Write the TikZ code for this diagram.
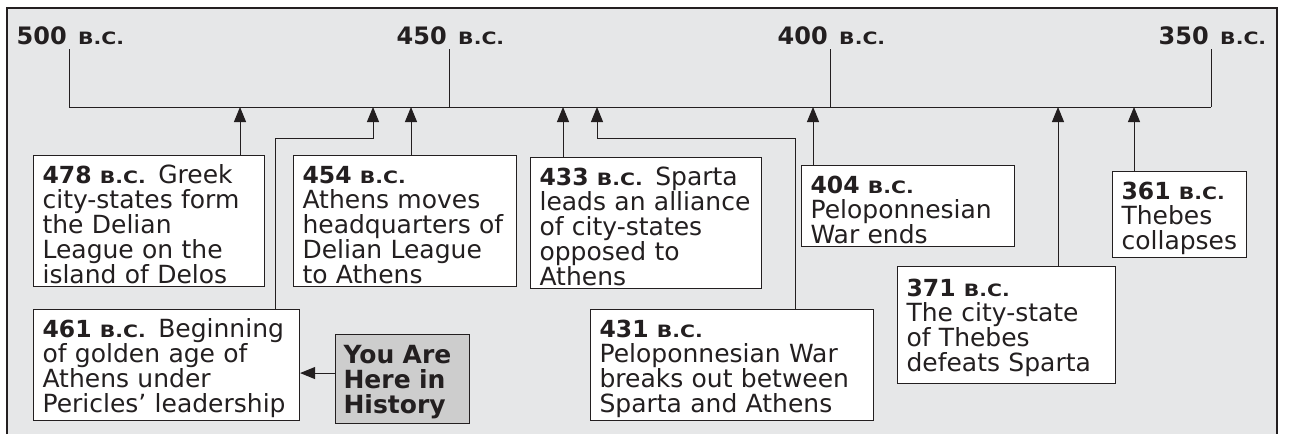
\documentclass[tikz,border=0pt]{standalone}
\usepackage{fontspec}
\setmainfont{DejaVu Sans}
\newfontfamily\bcfont{DejaVu Sans}[FakeStretch=1.2]
\usetikzlibrary{arrows.meta}
\hyphenpenalty=10000
\exhyphenpenalty=10000
\definecolor{panelgray}{HTML}{E6E7E8}
\definecolor{heregray}{HTML}{CDCDCD}
\definecolor{inkgray}{HTML}{231F20}
\newcommand{\bc}{{\bcfont\bfseries\fontsize{17pt}{17pt}\selectfont B.C.}}
\newcommand{\evyear}[1]{\rule{0pt}{24pt}{\fontsize{23.5pt}{25pt}\selectfont\textbf{#1}} \bc\hspace{4pt}}
\begin{document}
\begin{tikzpicture}[x=1pt, y=-1pt,
    event/.style ={draw=inkgray, fill=white, line width=1.1pt, anchor=north west,
      align=left, inner xsep=9pt, inner ysep=3.5pt, text=inkgray,
      font=\fontsize{25pt}{25pt}\selectfont},
    ticknum/.style ={inner sep=0pt, text=inkgray, font=\fontsize{24pt}{25pt}\selectfont\bfseries},
    arr/.style ={line width=1pt, draw=inkgray, -{Triangle[length=15pt,width=12pt]}}]
   \useasboundingbox (0,0) rectangle (1290,434);
   \fill[panelgray] (7,8) rectangle (1277,434);
   \draw[line width=1.3pt, draw=inkgray] (7,434) -- (7,8) -- (1277,8) -- (1277,434);

   % time line with its four marks
   \foreach \yr/\x in {500/69, 450/449, 400/830, 350/1211}{
     \coordinate (tk\yr) at (\x,107);
     \coordinate (tt\yr) at (\x,49);
     \node[ticknum, anchor=base east] (n\yr) at (\x-2,44) {\yr};
     \node[ticknum, anchor=base west] (b\yr) at (\x+9,44) {\bc};
     \draw[line width=1pt, draw=inkgray] (tt\yr) -- (tk\yr);
   }
   \draw[line width=1pt, draw=inkgray] (tk500) -- (tk350);
   \foreach \ev/\x in {478/240, 461/373, 454/411, 433/563, 431/597, 404/813, 371/1058, 361/1134}
     \coordinate (a\ev) at (\x,107);

   % events
   \node[event, text width=213pt] (e478) at (33,155) {\evyear{478} Greek\\city-states form\\the Delian\\League on the\\island of Delos};
   \node[event, text width=205pt] (e454) at (293,155) {\evyear{454}\\Athens moves\\headquarters of\\Delian League\\to Athens};
   \node[event, text width=213pt] (e433) at (530,157) {\evyear{433} Sparta\\leads an alliance\\of city-states\\opposed to\\Athens};
   \node[event, text width=195pt] (e404) at (801,165) {\evyear{404}\\Peloponnesian\\War ends};
   \node[event, text width=116pt] (e361) at (1112,171) {\evyear{361}\\Thebes\\collapses};
   \node[event, text width=200pt, minimum height=117pt] (e371) at (897,266) {\evyear{371}\\The city-state\\of Thebes\\defeats Sparta};
   \node[event, text width=265pt] (e431) at (590,309) {\evyear{431}\\Peloponnesian War\\breaks out between\\Sparta and Athens};
   \node[event, text width=248pt] (e461) at (33,309) {\evyear{461} Beginning\\of golden age of\\Athens under\\Pericles’ leadership};
   \node[event, fill=heregray, text width=118pt, inner xsep=8pt, minimum height=89pt,
     font=\fontsize{25pt}{25pt}\selectfont\bfseries] (here) at (335,334) {\rule{0pt}{24pt}You Are\\Here in\\History};

   \coordinate (k461) at (275,138);
   \coordinate (k431) at (795,138);
   \draw[arr] (e478.north -| a478) -- (a478);
   \draw[arr] (e454.north -| a454) -- (a454);
   \draw[arr] (e433.north -| a433) -- (a433);
   \draw[arr] (e404.north -| a404) -- (a404);
   \draw[arr] (e371.north -| a371) -- (a371);
   \draw[arr] (e361.north -| a361) -- (a361);
   \draw[arr] (e461.north -| k461) -- (k461) -| (a461);
   \draw[arr] (e431.north -| k431) -- (k431) -| (a431);
   \draw[arr] ([yshift=6pt]here.west) -- ([yshift=6pt]here.west -| e461.east);
\end{tikzpicture}
\end{document}
